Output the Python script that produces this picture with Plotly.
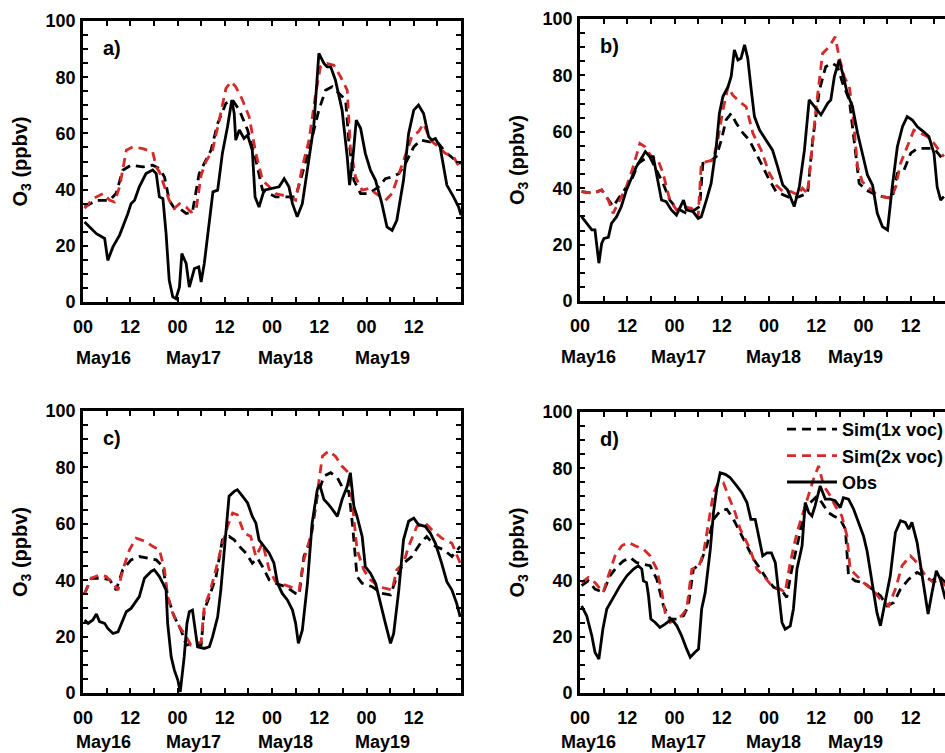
import plotly.graph_objects as go

# ---------------- data (hour since May16 00:00, O3 ppbv) ----------------
a_sim1 = [(0.4,33.8),(3.4,36.2),(6.8,36.2),(8.4,38.6),(10.1,46.9),(12.2,48.7),(15.2,48.1),(17.7,48.7),(19.4,47.5),(20.7,44.5),(21.9,36.2),(23.2,33.3),(24.5,33.3),(26.2,31.5),(27.8,32.1),(29.5,45.7),(30.8,49.3),(32.5,54.0),(34.2,63.5),(36.3,70.7),(38.0,71.9),(39.7,68.3),(41.8,61.2),(43.9,50.5),(45.6,39.8),(47.3,38.6),(48.9,37.4),(51.5,37.4),(54.0,37.4),(55.7,45.7),(57.8,56.4),(59.9,68.3),(61.6,75.4),(63.3,76.6),(65.0,74.2),(66.7,71.9),(67.5,57.6),(68.8,43.3),(70.5,38.6),(72.6,38.6),(75.1,41.0),(76.8,43.9),(78.5,44.5),(80.2,45.7),(81.9,49.3),(84.0,55.2),(85.7,57.6),(87.8,57.0),(90.3,56.4),(92.0,53.4),(94.5,50.5),(96.0,49.3)]
a_sim2 = [(0.4,33.3),(2.5,36.8),(5.1,38.6),(6.8,36.2),(8.0,35.6),(9.3,41.0),(11.0,54.0),(12.7,55.2),(15.2,54.6),(17.7,53.4),(18.6,48.1),(19.4,46.3),(20.7,41.0),(21.9,36.2),(23.2,33.3),(24.5,35.0),(26.2,33.8),(27.4,32.0),(28.7,32.7),(30.0,45.1),(31.2,49.9),(32.9,54.0),(34.6,64.7),(36.3,76.0),(37.6,78.4),(38.8,76.6),(40.5,71.9),(42.2,65.9),(43.9,52.9),(45.6,43.3),(47.3,41.0),(48.9,38.6),(50.6,38.0),(52.3,37.4),(54.0,36.2),(55.7,48.1),(57.4,57.6),(59.1,74.2),(60.3,83.7),(62.0,84.9),(63.7,84.3),(65.4,80.2),(67.1,75.4),(67.9,55.2),(69.2,44.5),(70.9,39.8),(72.6,40.4),(74.3,38.6),(76.8,36.2),(78.5,38.6),(80.2,45.7),(81.9,52.9),(83.5,58.8),(85.2,60.6),(86.5,63.5),(88.2,57.6),(90.3,55.2),(92.0,52.9),(94.1,51.7),(96.0,46.9)]
a_obs = [(0.4,28.5),(3.4,24.3),(5.5,22.6),(6.3,14.8),(7.6,19.6),(9.3,23.8),(11.4,31.5),(12.2,35.0),(13.1,36.2),(14.3,41.0),(16.0,45.7),(17.7,47.0),(18.6,45.7),(19.4,37.4),(20.3,36.8),(21.1,24.3),(21.9,7.7),(22.8,1.8),(23.6,1.2),(24.5,5.3),(25.1,17.2),(26.2,13.7),(27.0,5.3),(28.3,11.9),(29.4,12.5),(30.0,7.1),(30.8,13.7),(32.1,29.1),(33.0,39.2),(34.2,39.8),(35.4,52.9),(36.7,62.4),(37.8,71.9),(38.4,67.1),(38.8,57.6),(39.7,61.2),(40.9,58.2),(41.8,59.4),(43.0,54.0),(43.7,37.4),(44.7,33.8),(46.0,39.8),(48.1,40.4),(49.8,41.0),(51.1,43.9),(52.3,41.0),(53.2,35.0),(54.4,30.3),(55.7,35.0),(57.4,51.7),(58.6,62.4),(59.9,88.5),(61.2,84.9),(62.0,83.7),(62.9,83.7),(64.1,79.0),(65.8,68.3),(67.1,51.7),(67.7,41.6),(68.5,50.5),(69.4,64.7),(70.5,61.8),(71.7,52.9),(73.0,46.9),(74.3,43.3),(75.9,35.0),(77.2,26.7),(78.5,25.5),(79.7,29.1),(81.4,43.3),(82.7,60.0),(84.0,68.3),(85.2,70.1),(86.5,67.1),(87.8,58.8),(88.6,57.6),(89.5,58.2),(90.7,55.2),(92.4,41.6),(94.1,37.4),(95.4,33.8),(96.0,30.9)]

b_sim1 = [(0.4,38.8),(3.4,38.2),(5.5,39.4),(7.2,35.8),(8.4,33.5),(10.1,37.0),(11.8,40.5),(13.1,42.9),(14.8,48.8),(16.0,50.0),(17.7,51.2),(19.4,46.5),(21.1,41.7),(22.8,35.8),(24.5,32.9),(27.0,31.1),(29.1,32.3),(30.4,33.5),(31.2,48.8),(32.9,49.4),(34.6,51.2),(35.9,57.1),(37.1,64.2),(38.4,66.5),(39.7,63.0),(41.4,59.5),(43.0,57.1),(44.7,52.4),(46.4,47.6),(48.1,42.9),(49.8,38.8),(51.5,37.6),(53.6,36.4),(55.7,37.0),(57.8,38.2),(59.1,57.1),(60.8,74.8),(62.4,83.1),(64.1,84.3),(65.4,83.1),(66.7,77.2),(68.4,71.3),(69.6,57.1),(70.9,41.7),(72.6,39.4),(74.3,38.2),(76.8,37.0),(79.3,36.4),(80.6,45.3),(82.3,46.5),(84.0,52.4),(85.7,54.1),(87.8,54.1),(89.9,54.1),(91.6,51.2),(92.4,50.0)]
b_sim2 = [(0.4,38.8),(3.4,38.2),(5.5,39.4),(7.2,35.8),(8.4,31.1),(10.1,35.8),(11.8,40.5),(13.5,47.6),(15.2,55.9),(16.5,54.7),(18.1,51.2),(19.8,50.0),(21.1,45.3),(22.8,35.8),(24.5,32.3),(26.2,33.5),(28.3,32.9),(30.0,29.9),(30.8,48.8),(32.1,49.4),(33.8,50.0),(35.0,57.1),(36.3,67.7),(37.6,76.0),(38.8,73.0),(40.5,70.7),(42.2,68.9),(43.9,59.5),(46.0,53.5),(48.1,45.3),(49.8,41.1),(51.5,38.8),(53.6,38.8),(55.3,37.6),(56.5,40.0),(57.8,38.2),(59.1,55.9),(59.9,67.7),(61.6,87.8),(63.3,90.2),(64.8,93.7),(65.8,86.6),(67.1,79.6),(68.4,76.0),(69.2,67.7),(70.5,47.6),(71.7,42.3),(73.4,40.0),(75.1,38.2),(76.8,37.0),(78.9,36.4),(80.2,40.5),(81.4,48.8),(83.1,54.7),(84.8,60.6),(86.5,59.5),(88.2,58.3),(89.9,55.9),(91.6,52.4),(92.4,51.2)]
b_obs = [(0.4,29.9),(1.7,27.5),(3.0,25.2),(3.8,25.2),(4.8,13.4),(5.5,20.4),(6.1,22.2),(7.2,22.6),(8.0,27.5),(9.3,29.9),(10.5,33.5),(11.8,39.4),(13.1,43.5),(14.3,47.6),(15.6,50.6),(16.6,53.0),(17.7,51.2),(18.6,51.2),(19.4,45.3),(20.7,35.8),(21.9,35.2),(23.2,32.3),(24.5,30.5),(25.3,32.9),(26.3,35.8),(27.0,32.3),(28.7,31.7),(30.0,29.3),(30.8,29.9),(32.1,35.8),(33.3,41.7),(34.6,54.7),(35.4,66.5),(36.3,72.5),(37.6,76.0),(38.4,79.6),(39.2,89.0),(40.1,85.5),(40.9,86.1),(41.8,90.8),(42.6,86.1),(43.5,74.8),(44.3,65.4),(45.6,60.6),(47.3,57.1),(48.9,53.5),(50.2,47.6),(51.5,41.1),(52.7,39.4),(54.4,33.5),(55.7,40.5),(57.0,53.5),(58.2,71.3),(59.5,68.9),(61.2,66.0),(62.9,70.1),(63.7,71.3),(64.6,79.6),(65.8,85.5),(66.7,80.7),(67.9,73.6),(69.2,68.9),(70.5,59.5),(71.7,52.4),(73.0,44.7),(74.3,41.1),(75.5,31.1),(76.8,26.4),(78.1,25.2),(79.3,40.5),(80.6,54.7),(81.9,61.8),(83.1,65.4),(84.4,64.2),(85.7,61.8),(87.3,60.0),(88.6,58.3),(89.9,52.4),(90.7,40.5),(91.6,35.8),(92.4,37.0)]

c_sim1 = [(0.4,35.3),(2.1,40.7),(5.1,40.7),(6.8,40.1),(8.4,36.5),(10.1,43.7),(12.2,47.2),(14.3,48.4),(16.5,47.8),(18.6,47.2),(20.3,44.8),(21.5,34.2),(23.2,27.0),(24.9,22.3),(26.2,17.0),(28.3,17.6),(30.0,17.0),(30.8,29.4),(32.1,34.2),(33.8,41.3),(35.4,54.3),(37.1,55.5),(38.4,54.3),(39.7,52.0),(41.4,49.6),(43.0,46.0),(44.3,47.8),(45.6,44.8),(47.3,40.1),(48.9,38.9),(51.5,37.7),(54.0,35.3),(54.9,34.8),(56.1,48.4),(57.8,54.3),(59.5,69.8),(61.2,76.9),(62.9,78.1),(64.6,76.3),(66.2,72.1),(67.5,71.5),(68.4,60.3),(69.6,41.3),(70.9,38.9),(73.4,37.7),(75.9,35.3),(78.1,34.8),(79.7,41.3),(81.4,46.0),(83.5,48.4),(85.7,53.1),(87.3,55.5),(89.5,52.0),(91.6,50.8),(93.7,48.4),(95.8,52.0)]
c_sim2 = [(0.4,35.3),(2.1,40.7),(4.2,41.9),(5.9,41.3),(7.6,38.9),(8.9,36.5),(10.1,43.7),(11.8,50.8),(13.5,54.9),(16.0,53.7),(17.7,52.0),(19.4,50.8),(20.7,43.7),(21.5,34.2),(22.8,28.2),(24.5,23.5),(25.7,21.1),(27.4,17.0),(29.1,17.6),(30.0,18.1),(30.8,30.6),(32.1,35.3),(33.3,41.3),(35.0,50.8),(36.7,59.1),(38.0,63.8),(39.2,63.2),(40.9,56.7),(42.6,55.5),(43.9,48.4),(45.6,53.1),(47.3,43.7),(48.9,39.5),(51.5,38.3),(54.0,37.1),(54.9,36.5),(56.1,47.2),(57.8,55.5),(59.5,70.9),(60.8,84.0),(62.4,85.8),(64.1,84.0),(65.8,80.4),(67.5,78.1),(68.4,67.4),(69.6,50.8),(71.3,43.7),(73.0,40.1),(75.1,37.7),(77.2,37.1),(78.5,36.5),(79.7,43.7),(81.4,46.0),(82.7,52.0),(84.8,59.1),(86.9,60.3),(88.6,57.9),(91.1,54.9),(93.7,53.1),(95.8,46.0)]
c_obs = [(0.4,25.9),(1.3,24.7),(2.5,25.9),(3.4,28.0),(4.2,25.3),(5.5,24.7),(6.3,22.9),(7.6,21.1),(8.9,21.7),(10.1,25.9),(11.0,28.8),(12.2,30.0),(13.5,32.4),(14.3,34.2),(15.6,40.7),(17.3,43.1),(18.1,43.7),(19.4,41.3),(20.3,38.9),(21.1,36.5),(21.5,24.7),(22.4,12.8),(23.2,8.1),(24.1,4.5),(24.7,0.4),(25.7,12.8),(26.4,24.7),(27.0,28.8),(27.8,29.4),(29.1,16.4),(30.8,15.8),(32.1,16.4),(32.9,19.9),(34.2,27.0),(35.0,36.5),(36.3,57.9),(37.1,69.8),(38.4,71.5),(39.2,72.1),(40.5,69.8),(41.8,67.4),(43.0,62.6),(43.9,60.3),(44.7,54.3),(46.0,52.0),(47.3,49.6),(48.5,46.0),(49.4,38.9),(50.6,35.3),(51.9,33.0),(53.2,29.4),(54.0,24.7),(54.7,17.6),(55.7,22.3),(57.0,38.9),(58.2,60.3),(59.5,72.1),(60.1,73.9),(61.2,68.6),(62.4,66.8),(63.7,64.4),(64.6,62.6),(65.8,68.6),(67.1,73.3),(67.9,78.1),(68.8,66.2),(69.6,62.6),(70.9,55.5),(71.7,44.8),(73.0,42.5),(74.3,38.9),(75.5,31.8),(76.8,24.7),(78.1,17.6),(78.9,21.1),(80.2,36.5),(81.4,54.3),(82.7,60.9),(84.0,62.0),(85.2,59.7),(86.9,59.1),(88.2,56.7),(89.5,53.1),(91.1,46.0),(92.4,39.5),(93.7,36.5),(94.9,31.8),(95.8,27.0)]

d_sim1 = [(0.4,38.2),(2.1,39.9),(3.8,37.0),(5.9,35.8),(7.6,41.7),(9.3,44.7),(11.0,47.0),(12.7,48.2),(14.4,46.4),(16.1,45.9),(17.8,45.3),(19.5,40.5),(21.2,31.0),(22.9,26.3),(24.6,26.3),(26.3,27.5),(27.5,31.0),(28.8,44.1),(30.5,45.9),(32.2,52.4),(33.9,61.8),(35.6,64.8),(37.3,65.4),(39.0,61.8),(40.7,57.1),(42.4,52.4),(44.1,47.6),(45.8,44.1),(47.5,40.5),(49.2,37.6),(51.3,36.4),(52.5,34.0),(53.8,44.1),(55.5,54.7),(56.8,64.2),(58.5,67.8),(60.2,70.1),(61.4,67.8),(63.1,64.2),(64.4,63.0),(66.1,61.8),(67.4,58.3),(68.2,41.7),(69.9,39.9),(72.0,39.3),(74.2,37.0),(76.3,34.6),(78.0,31.0),(79.7,32.2),(81.4,37.0),(83.5,40.5),(85.6,42.9),(87.3,41.7),(89.4,39.9),(91.1,41.7),(92.8,39.3)]
d_sim2 = [(0.4,39.3),(2.1,41.1),(3.8,39.3),(5.9,35.8),(7.2,41.7),(8.9,48.8),(10.6,52.4),(12.3,53.6),(14.0,52.4),(16.1,51.2),(17.8,48.8),(19.5,44.1),(20.8,35.8),(21.6,28.7),(22.9,25.1),(24.6,26.3),(25.8,27.5),(27.1,29.9),(28.4,44.1),(30.1,44.7),(31.4,50.0),(32.6,60.7),(33.9,71.3),(35.2,74.9),(36.4,74.9),(37.7,70.1),(39.4,64.2),(40.7,58.3),(41.9,54.7),(43.2,51.2),(44.9,44.1),(46.6,41.7),(48.7,38.2),(50.8,37.0),(52.1,35.8),(53.4,46.4),(55.1,57.1),(56.4,63.0),(58.1,70.1),(59.3,76.1),(60.6,80.8),(61.9,73.7),(63.6,70.1),(64.8,66.6),(66.5,63.0),(67.8,55.9),(68.6,44.1),(69.9,42.3),(72.0,39.3),(74.2,37.0),(76.3,33.4),(78.4,31.0),(80.1,37.0),(81.8,45.3),(83.9,48.8),(85.6,46.4),(87.7,41.7),(89.8,39.3),(91.1,40.5),(92.8,38.2)]
d_obs = [(0.4,31.0),(1.7,27.5),(3.0,20.4),(3.8,14.5),(4.8,12.1),(5.8,22.7),(6.8,29.9),(8.5,34.0),(10.2,38.2),(11.9,41.7),(13.6,44.1),(14.8,45.3),(15.7,44.1),(16.1,39.9),(16.9,39.3),(17.4,34.6),(18.0,26.3),(19.1,25.1),(20.3,23.3),(21.6,24.5),(23.3,26.3),(24.6,23.9),(25.8,20.4),(27.1,15.6),(28.0,12.7),(29.2,14.5),(30.1,15.6),(30.9,29.9),(31.8,35.8),(33.1,51.2),(33.9,64.2),(34.7,72.5),(35.6,78.4),(36.9,77.8),(38.1,76.7),(39.8,73.7),(41.1,71.3),(42.4,67.8),(43.4,61.8),(44.5,61.8),(45.3,55.9),(46.4,48.8),(47.5,49.9),(48.6,49.9),(49.6,46.4),(50.4,35.8),(51.3,25.1),(52.1,22.7),(53.4,23.9),(54.2,29.9),(55.1,44.1),(56.4,52.4),(57.2,67.8),(58.1,64.2),(58.9,63.0),(59.7,66.6),(61.0,73.7),(62.3,69.0),(63.6,69.0),(64.8,68.4),(66.1,66.0),(66.9,69.5),(68.2,69.0),(69.5,65.4),(70.8,60.7),(72.0,55.9),(72.9,50.6),(74.2,39.3),(75.4,28.7),(76.3,23.9),(77.5,32.2),(78.8,41.7),(80.1,57.1),(81.4,61.3),(82.6,60.7),(83.5,58.3),(84.3,60.7),(85.6,53.6),(86.9,41.7),(87.7,34.6),(88.4,28.1),(89.4,35.8),(90.5,43.5),(91.5,40.5),(92.8,33.4)]

panel_letters = ["a)", "b)", "c)", "d)"]
series_names = ["Sim(1x voc)", "Sim(2x voc)", "Obs"]
date_labels = ["May16", "May17", "May18", "May19"]
y_title = "O<sub>3</sub> (ppbv)"
x_tick_hours = list(range(0, 85, 12))
x_tick_text = ["00" if h % 24 == 0 else "12" for h in x_tick_hours]
y_tick_vals = list(range(0, 101, 20))
y_tick_text = [str(v) for v in y_tick_vals]

# ---------------- styling / layout ----------------
W, H = 945, 753
FONT = "Liberation Sans"
RED = "#d42a2a"
panels = [
    dict(data=[a_sim1, a_sim2, a_obs], x0=83, x1=461, top=21, bot=302, full=True, dy=56),
    dict(data=[b_sim1, b_sim2, b_obs], x0=580, x1=958, top=19, bot=301, full=False, dy=56),
    dict(data=[c_sim1, c_sim2, c_obs], x0=83, x1=461, top=411, bot=693, full=True, dy=49),
    dict(data=[d_sim1, d_sim2, d_obs], x0=580, x1=958, top=412, bot=693, full=False, dy=49),
]
styles = [dict(color="black", width=2.8, dash="9px,6px"),
          dict(color=RED, width=2.8, dash="9px,6px"),
          dict(color="black", width=2.8)]
date_px = {True: [103.5, 193, 285, 382], False: [588.5, 678.5, 773.5, 855]}

fig = go.Figure()
layout = dict(width=W, height=H, paper_bgcolor="white", plot_bgcolor="white",
              margin=dict(l=0, r=0, t=0, b=0, autoexpand=False),
              font=dict(family=FONT, color="black"))
annotations = []
bold = dict(family=FONT, color="black", weight="bold")
minor_style = dict(ticks="inside", ticklen=5, tickwidth=2, tickcolor="black", showgrid=False)

for i, p in enumerate(panels):
    n = i + 1
    xs = "" if n == 1 else str(n)
    px_per_h = (p["x1"] - p["x0"]) / 96.0
    xmax = min(96.0, (W - p["x0"]) / px_per_h)
    dom_x = [p["x0"] / W, min(1.0, p["x1"] / W)]
    dom_y = [1 - p["bot"] / H, 1 - p["top"] / H]
    for k, ser in enumerate(p["data"]):
        fig.add_trace(go.Scatter(
            x=[q[0] for q in ser], y=[q[1] for q in ser], mode="lines",
            line=styles[k], name=series_names[k], legendgroup=series_names[k],
            showlegend=(n == 4), xaxis="x" + xs, yaxis="y" + xs))
    layout["xaxis" + xs] = dict(domain=dom_x, anchor="y" + xs, range=[0, xmax],
        tickmode="array", tickvals=x_tick_hours, ticktext=x_tick_text,
        ticks="inside", ticklen=5, tickwidth=2, tickcolor="black",
        minor=dict(dtick=6, tick0=0, **minor_style),
        showline=True, linewidth=2.8, linecolor="black", mirror="ticks",
        showgrid=False, zeroline=False, ticklabelstandoff=6,
        tickfont=dict(size=18, **bold))
    layout["yaxis" + xs] = dict(domain=dom_y, anchor="x" + xs, range=[0, 100],
        tickmode="array", tickvals=y_tick_vals, ticktext=y_tick_text,
        ticks="inside", ticklen=5, tickwidth=2, tickcolor="black",
        minor=dict(dtick=5, tick0=0, **minor_style),
        showline=True, linewidth=2.8, linecolor="black",
        mirror="ticks" if p["full"] else False,
        showgrid=False, zeroline=False, ticklabelstandoff=1,
        tickfont=dict(size=18, **bold),
        title=dict(text=y_title, standoff=13, font=dict(size=20, **bold)))
    # panel letter
    annotations.append(dict(text=panel_letters[i], xref="paper", yref="paper",
        x=(p["x0"] + 18) / W, y=1 - (p["top"] + 27) / H, xanchor="left", yanchor="middle",
        showarrow=False, font=dict(size=20, **bold)))
    # day labels
    for lbl, cx in zip(date_labels, date_px[p["full"]]):
        annotations.append(dict(text=lbl, xref="paper", yref="paper",
            x=cx / W, y=1 - (p["bot"] + p["dy"]) / H, xanchor="center", yanchor="middle",
            showarrow=False, font=dict(size=18, **bold)))

layout["annotations"] = annotations
layout["legend"] = dict(x=782 / W, y=1 - 411 / H, xanchor="left", yanchor="top",
    bgcolor="rgba(0,0,0,0)", borderwidth=0, itemwidth=50, tracegroupgap=0,
    font=dict(size=18, **bold))
fig.update_layout(**layout)
fig.write_html("out.html")
